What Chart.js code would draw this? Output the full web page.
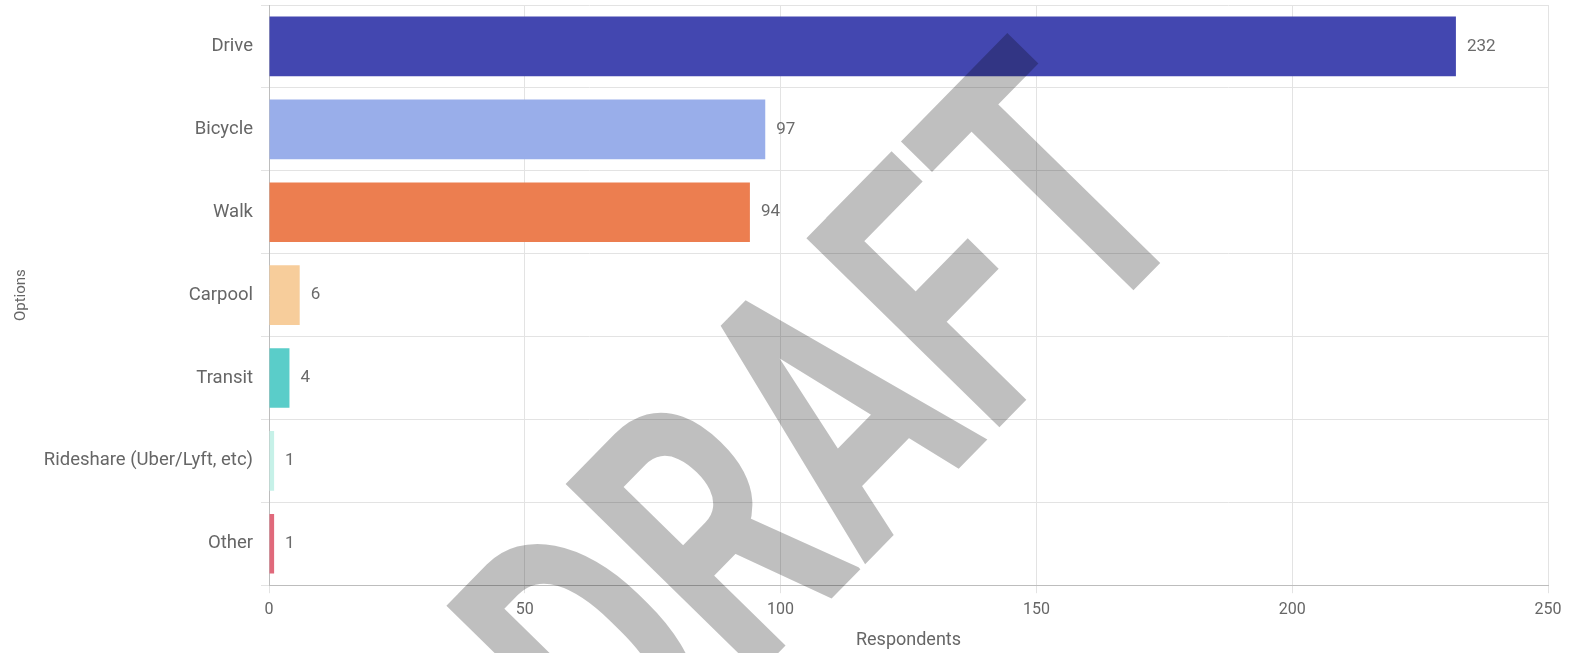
<!DOCTYPE html>
<html>
<head>
<meta charset="utf-8">
<script src="https://cdn.jsdelivr.net/npm/chart.js@4.4.1/dist/chart.umd.min.js"></script>
<style>
  html, body { margin: 0; padding: 0; background: #fff; }
  #wrap { width: 1579px; height: 653px; position: relative; }
</style>
</head>
<body>
<div id="wrap"><canvas id="modeChart"></canvas></div>
<script>
var categories = ['Drive', 'Bicycle', 'Walk', 'Carpool', 'Transit', 'Rideshare (Uber/Lyft, etc)', 'Other'];
var respondents = [232, 97, 94, 6, 4, 1, 1];
var barColors = ['#4347B0', '#99AEEA', '#EC7E50', '#F7CD9B', '#5ACDC9', '#C6F1E8', '#E0697B'];
var xMin = 0, xMax = 250, xStep = 50;

// value printed just past the end of each bar
var valueLabels = {
  id: 'valueLabels',
  afterDatasetsDraw: function(chart) {
    var ctx = chart.ctx;
    var meta = chart.getDatasetMeta(0);
    ctx.save();
    ctx.font = '17px Roboto, Arial, sans-serif';
    ctx.fillStyle = '#6b6b6b';
    ctx.textAlign = 'left';
    ctx.textBaseline = 'middle';
    meta.data.forEach(function(bar, i) {
      ctx.fillText(String(respondents[i]), bar.x + 11, bar.y);
    });
    ctx.restore();
  }
};

// big diagonal DRAFT watermark
var draftMark = {
  id: 'draftMark',
  afterDraw: function(chart) {
    var ctx = chart.ctx;
    ctx.save();
    ctx.translate(848, 446);
    ctx.rotate(-45.6 * Math.PI / 180);
    ctx.scale(0.69, 1);
    ctx.font = 'bold 380px Roboto, Arial, sans-serif';
    ctx.fillStyle = 'rgba(0,0,0,0.25)';
    ctx.textAlign = 'center';
    ctx.textBaseline = 'middle';
    ctx.fillText('DRAFT', 0, 0);
    ctx.restore();
  }
};

var ctxMode = document.getElementById('modeChart').getContext('2d');
var modeChart = new Chart(ctxMode, {
  type: 'bar',
  data: {
    labels: categories,
    datasets: [{
      label: 'Respondents',
      data: respondents,
      backgroundColor: barColors,
      borderWidth: 0
    }]
  },
  options: {
    indexAxis: 'y',
    responsive: true,
    maintainAspectRatio: false,
    animation: false,
    layout: { padding: { top: 5, right: 31, bottom: -2, left: 0 } },
    plugins: {
      legend: { display: false },
      tooltip: { enabled: false }
    },
    scales: {
      x: {
        min: xMin,
        max: xMax,
        ticks: { stepSize: xStep, color: '#666', padding: 7, font: { family: 'Roboto', size: 16 } },
        grid: { color: '#e3e3e3' },
        border: { color: '#bdbdbd' },
        title: { display: true, text: 'Respondents', color: '#666', padding: { top: 3, bottom: 4 }, font: { family: 'Roboto', size: 18 } }
      },
      y: {
        ticks: { color: '#666', font: { family: 'Roboto', size: 18.5 }, padding: 8 },
        grid: { color: '#e3e3e3' },
        border: { color: '#bdbdbd' },
        title: { display: true, text: 'Options', color: '#666', font: { family: 'Roboto', size: 15 }, padding: { top: 12, bottom: 4 } },
        afterFit: function(scale) {
          scale.width = 269;
          scale.paddingTop = 0;
          scale.paddingBottom = 0;
        }
      }
    }
  },
  plugins: [valueLabels, draftMark]
});
</script>
</body>
</html>
